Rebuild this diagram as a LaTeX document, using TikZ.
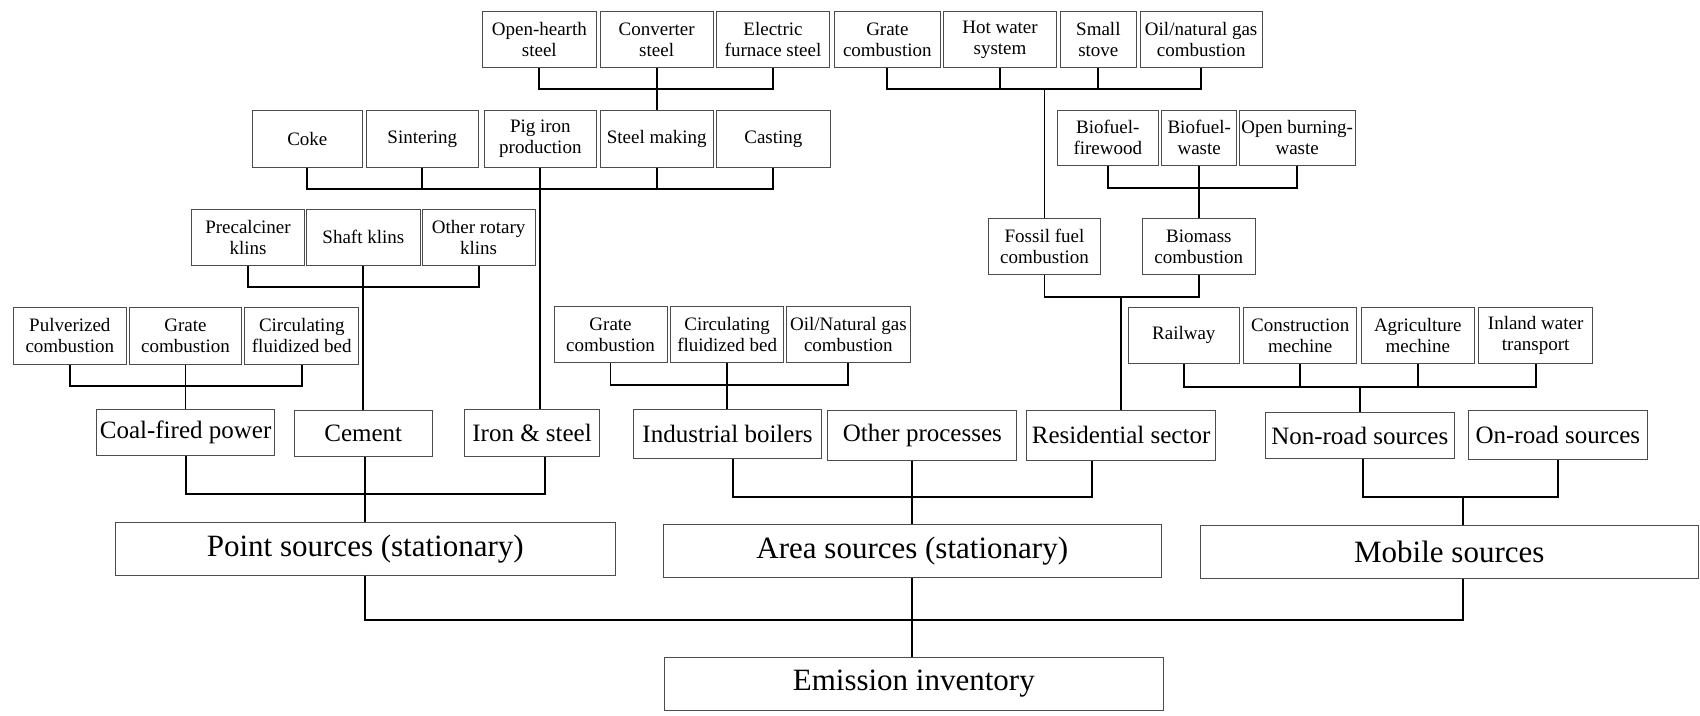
\documentclass[tikz,border=0pt]{standalone}
\usepackage{fontspec}
\setmainfont{Liberation Serif}
\newfontfamily\timesfam{Liberation Serif}
\usetikzlibrary{calc}
\tikzset{
  bxs/.style={draw=black!70, line width=1pt, inner sep=1pt, align=center, text=black, font=\timesfam\fontsize{19}{21}\selectfont},
  bxm/.style={bxs, font=\timesfam\fontsize{25}{28}\selectfont},
  bxl/.style={bxs, font=\timesfam\fontsize{31}{34}\selectfont},
  conn/.style={line width=1.8pt, black, line join=miter}
}
\newcommand{\bx}[7]{\node[#6, minimum width={(#4-#2)*1pt}, minimum height={(#5-#3)*1pt}] (#1) at ({(#2+#4)/2},{-(#3+#5)/2}) {#7};}
\begin{document}
\begin{tikzpicture}[x=1pt,y=1pt]
\fill[white] (0,0) rectangle (1700,-715);
\useasboundingbox (0,0) rectangle (1700,-715);
% top row
\bx{ohs}{482.7}{11.7}{596}{67.7}{bxs}{Open-hearth\\steel}
\bx{cvs}{600}{11.7}{713.3}{67.7}{bxs}{Converter\\steel}
\bx{efs}{716.7}{11.7}{829.3}{67.7}{bxs}{Electric\\furnace steel}
\bx{rgc}{834}{11.7}{940.7}{67.7}{bxs}{Grate\\combustion}
\bx{hws}{943.3}{11.7}{1056.7}{67.7}{bxs}{Hot water\\system}
\bx{sst}{1060}{11.7}{1136.7}{67.7}{bxs}{Small\\stove}
\bx{ong}{1140}{11.7}{1262.3}{67.7}{bxs}{Oil/natural gas\\combustion}
% second row
\bx{coke}{252.6}{110.6}{362.1}{167}{bxs}{Coke}
\bx{sint}{366.5}{110.6}{478.1}{167}{bxs}{Sintering}
\bx{pig}{484}{110.6}{596.7}{167}{bxs}{Pig iron\\production}
\bx{stm}{600}{110.6}{713.3}{167}{bxs}{Steel making}
\bx{cast}{716.7}{110.6}{830}{167}{bxs}{Casting}
\bx{bfw}{1057.3}{110}{1158.3}{165.7}{bxs}{Biofuel-\\firewood}
\bx{bwa}{1161.7}{110}{1236.7}{165.7}{bxs}{Biofuel-\\waste}
\bx{obw}{1239.3}{110}{1355}{165.7}{bxs}{Open burning-\\waste}
% third row
\bx{pre}{191.7}{209}{304.3}{265}{bxs}{Precalciner\\klins}
\bx{shaft}{306.7}{209}{420}{265}{bxs}{Shaft klins}
\bx{orot}{422.3}{209}{535}{265}{bxs}{Other rotary\\klins}
\bx{ffc}{988.3}{218.3}{1100.7}{274.3}{bxs}{Fossil fuel\\combustion}
\bx{bmc}{1142.3}{218.3}{1255.3}{274.3}{bxs}{Biomass\\combustion}
% fourth row
\bx{pul}{13.4}{307.3}{126.3}{364}{bxs}{Pulverized\\combustion}
\bx{cgr}{129}{307.3}{241.9}{364}{bxs}{Grate\\combustion}
\bx{cfb}{244.9}{307.3}{358.6}{364}{bxs}{Circulating\\fluidized bed}
\bx{igr}{554}{306}{667.1}{362.7}{bxs}{Grate\\combustion}
\bx{icfb}{670.7}{306}{783.6}{362.7}{bxs}{Circulating\\fluidized bed}
\bx{iong}{786}{306}{910.7}{362.7}{bxs}{Oil/Natural gas\\combustion}
\bx{rail}{1128.1}{307.3}{1239.5}{363.3}{bxs}{Railway}
\bx{cons}{1243.6}{307.3}{1356.8}{363.3}{bxs}{Construction\\mechine}
\bx{agri}{1361.2}{307.3}{1474.4}{363.3}{bxs}{Agriculture\\mechine}
\bx{inl}{1478.9}{307.3}{1592.4}{363.3}{bxs}{Inland water\\transport}
% sector row
\bx{coal}{96.4}{409.3}{274.8}{455.7}{bxm}{Coal-fired power}
\bx{cem}{294.3}{410}{432.3}{456.7}{bxm}{Cement}
\bx{iron}{464.5}{409.8}{599.6}{456}{bxm}{Iron \& steel}
\bx{ib}{633.2}{409.3}{821.8}{458.3}{bxm}{Industrial boilers}
\bx{op}{827.9}{410.7}{1016.8}{460}{bxm}{Other processes}
\bx{rs}{1026.8}{410.7}{1215.4}{460}{bxm}{Residential sector}
\bx{nr}{1265.4}{412.7}{1454.1}{458.3}{bxm}{Non-road sources}
\bx{onr}{1468.5}{410.7}{1647.2}{459.3}{bxm}{On-road sources}
% source row
\bx{pt}{115.3}{522.3}{615.3}{575}{bxl}{Point sources (stationary)}
\bx{ar}{663.3}{524.3}{1161.2}{577.3}{bxl}{Area sources (stationary)}
\bx{mb}{1200}{525.7}{1698.5}{578.7}{bxl}{Mobile sources}
\bx{em}{664.3}{657.3}{1163.3}{710}{bxl}{Emission inventory}
% bus levels
\coordinate (b1) at (0,-89.3);
\coordinate (b2) at (0,-189);
\coordinate (b3) at (0,-188.3);
\coordinate (b4) at (0,-287.3);
\coordinate (b5) at (0,-296.7);
\coordinate (b6) at (0,-386);
\coordinate (b7) at (0,-385);
\coordinate (b8) at (0,-386.7);
\coordinate (b9) at (0,-494);
\coordinate (b10) at (0,-496.7);
\coordinate (b11) at (0,-496.7);
\coordinate (b12) at (0,-620);
\coordinate (ironout) at ($(iron.south)+(13,0)$);
\coordinate (ibout) at ($(ib.south)+(5.4,0)$);
\coordinate (rsout) at ($(rs.south)+(-29.4,0)$);
\coordinate (nrout) at ($(nr.south)+(3.5,0)$);
\coordinate (mbin) at ($(mb.north)+(14,0)$);
\coordinate (mbout) at ($(mb.south)+(14,0)$);
% steel making
\draw[conn] (ohs.south) |- (b1 -| cvs.south) -| (efs.south);
\draw[conn] (cvs.south) -- (stm.north);
% residential fossil
\draw[conn] (rgc.south) |- (b1 -| ong.south) -- (ong.south);
\draw[conn] (hws.south) -- (hws.south |- b1);
\draw[conn] (sst.south) -- (sst.south |- b1);
\draw[conn] (ffc.north |- b1) -- (ffc.north);
% iron & steel processes
\draw[conn] (coke.south) |- (b2 -| cast.south) -- (cast.south);
\draw[conn] (sint.south) -- (sint.south |- b2);
\draw[conn] (stm.south) -- (stm.south |- b2);
\draw[conn] (pig.south) -- (pig.south |- iron.north);
% biomass
\draw[conn] (bfw.south) |- (b3 -| obw.south) -- (obw.south);
\draw[conn] (bwa.south) -- (bwa.south |- bmc.north);
% klins
\draw[conn] (pre.south) |- (b4 -| orot.south) -- (orot.south);
\draw[conn] (shaft.south) -- (shaft.south |- cem.north);
% residential
\draw[conn] (ffc.south) |- (b5 -| bmc.south) -- (bmc.south);
\draw[conn] (b5 -| rs.north) -- (rs.north);
% coal power
\draw[conn] (pul.south) |- (b6 -| cfb.south) -- (cfb.south);
\draw[conn] (cgr.south) -- (cgr.south |- coal.north);
% industrial boilers
\draw[conn] (igr.south) |- (b7 -| iong.south) -- (iong.south);
\draw[conn] (icfb.south) -- (icfb.south |- ib.north);
% non-road
\draw[conn] (rail.south) |- (b8 -| inl.south) -- (inl.south);
\draw[conn] (cons.south) -- (cons.south |- b8);
\draw[conn] (agri.south) -- (agri.south |- b8);
\draw[conn] (b8 -| nr.north) -- (nr.north);
% point sources
\draw[conn] (coal.south) |- (b9 -| ironout) -- (ironout);
\draw[conn] (cem.south -| pt.north) -- (pt.north);
% area sources
\draw[conn] (ibout) |- (b10 -| rsout) -- (rsout);
\draw[conn] (op.south -| ar.north) -- (ar.north);
% mobile sources
\draw[conn] (nrout) |- (b11 -| onr.south) -- (onr.south);
\draw[conn] (b11 -| mbin) -- (mbin);
% emission inventory
\draw[conn] (pt.south) |- (b12 -| mbout) -- (mbout);
\draw[conn] (ar.south) -- (ar.south |- em.north);
\end{tikzpicture}
\end{document}
